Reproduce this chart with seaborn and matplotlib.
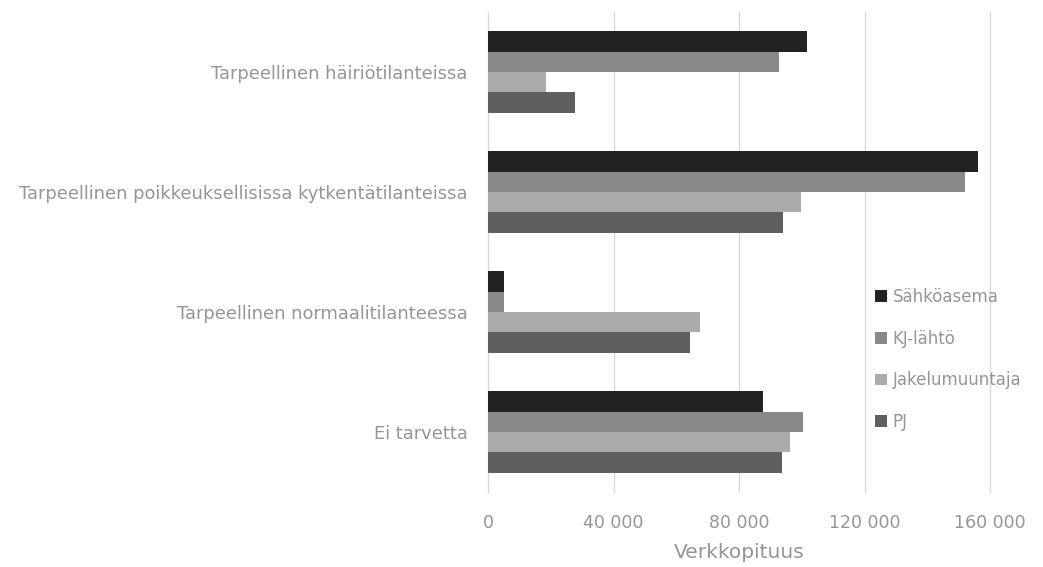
import matplotlib
matplotlib.use("Agg")
import matplotlib.pyplot as plt
import seaborn as sns
import pandas as pd
from matplotlib.ticker import FuncFormatter
from matplotlib.patches import Patch

categories = [
    "Tarpeellinen häiriötilanteissa",
    "Tarpeellinen poikkeuksellisissa kytkentätilanteissa",
    "Tarpeellinen normaalitilanteessa",
    "Ei tarvetta",
]
series = ["Sähköasema", "KJ-lähtö", "Jakelumuuntaja", "PJ"]
sahkoasema = [101700, 156100, 5100, 87500]
kj_lahto = [92700, 151900, 5000, 100300]
jakelumuuntaja = [18500, 99800, 67700, 96100]
pj = [27600, 94100, 64500, 93600]
colors = ["#222222", "#888888", "#ababab", "#5f5f5f"]
xticks = [0, 40000, 80000, 120000, 160000]

values = [sahkoasema, kj_lahto, jakelumuuntaja, pj]
rows = []
for s, vals in zip(series, values):
    for c, v in zip(categories, vals):
        rows.append({"Kategoria": c, "Sarja": s, "Arvo": v})
df = pd.DataFrame(rows)

sns.set_theme(style="white")
plt.rcParams["font.family"] = ["DejaVu Sans"]

fig = plt.figure(figsize=(10.43, 5.67), dpi=100)
ax = fig.add_axes([488 / 1043, 1 - 492 / 567, (990 - 488) / 1043, 480 / 567])

sns.barplot(data=df, y="Kategoria", x="Arvo", hue="Sarja", order=categories,
            hue_order=series, palette=colors, orient="h", width=0.68,
            saturation=1, ax=ax, legend=False, linewidth=0)

ax.set_xlim(0, 160000)
ax.set_xticks(xticks)
ax.xaxis.set_major_formatter(FuncFormatter(lambda v, p: f"{int(v):,}".replace(",", " ")))
ax.grid(axis="x", color="#d9d9d9", linewidth=1)
for gl in ax.get_xgridlines():
    gl.set_clip_on(False)
ax.set_axisbelow(True)
for sp in ax.spines.values():
    sp.set_visible(False)
txtc = "#959595"
ax.tick_params(axis="x", length=0, pad=16, labelsize=12.5, labelcolor=txtc)
ax.tick_params(axis="y", length=0, pad=14.5, labelsize=12.9, labelcolor=txtc)
ax.set_ylabel("")
ax.set_xlabel("Verkkopituus", color=txtc, fontsize=14.5, labelpad=8)

handles = [Patch(facecolor=c, edgecolor="none") for c in colors]
fig.legend(handles, series, loc="upper left", bbox_to_anchor=(860 / 1043, 1 - 273 / 567),
           frameon=False, fontsize=12, labelcolor=txtc, handlelength=0.7,
           handleheight=0.7, handletextpad=0.35, labelspacing=1.42)

fig.savefig("out.png", dpi=100)
